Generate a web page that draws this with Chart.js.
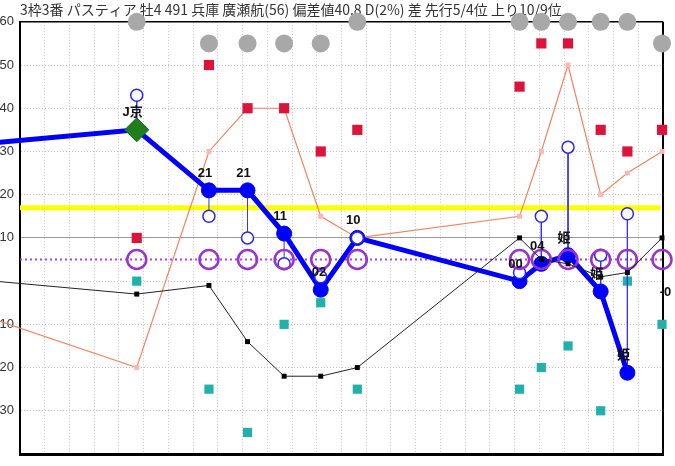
<!DOCTYPE html>
<html><head><meta charset="utf-8">
<script src="https://cdn.jsdelivr.net/npm/chart.js@4"></script>
<style>html,body{margin:0;padding:0;background:#fff;overflow:hidden}canvas{display:block}</style>
</head><body>
<canvas id="c" width="675" height="466"></canvas>
<script>
// ---- data ----
const titleText = '3枠3番 パスティア 牡4 491 兵庫 廣瀬航(56) 偏差値40.8 D(2%) 差 先行5/4位 上り10/9位';
const racePos   = [4.72, 7.64, 9.2, 10.68, 12.16, 13.64, 20.2, 21.08, 22.16, 23.48, 24.56, 25.96];
const prevPos   = -2;                       // previous race, off the left edge
const mainIndex = [35, 21, 21, 11, -2, 10, 0, 4, 6, -2.4, -21.2, null];
const mainLabels= ['J京','21','21','11','-02','10','00','04','姫','姫','姫',''];
const prevMain  = 31.5;
const upperIndex= [43, 15, 10, 4, 1, 10, 2, 15, 31, 6, 15.6, null];
const grayTop   = [60, 55, 55, 55, 55, 60, 60, 60, 60, 60, 60, 55];
const ringLevel = [5, 5, 5, 5, 5, 5, 5, 5, 5, 5, 5, 5];
const purpleLine= 5;
const yellowLine= 17;
const redSq     = [10, 50, 40, 40, 30, 35, 45, 55, 55, 35, 30, 35];
const tealSq    = [0, -25, -35, -10, -5, -25, -25, -20, -15, -30, 0, -10];
const orangeVal = [-20, 30, 40, 40, 15, 10, 15, 30, 50, 20, 25, 30];
const prevOrange= -7;
const blackVal  = [-3, -1, -14, -22, -22, -20, 10, 5, 4, 1, 2, 10];
const prevBlack = 0.5;
const edgeNote  = {x: 26.1, y: -2.6, text: '-0'};
const yTicks    = [60, 50, 40, 30, 20, 10, 0, -10, -20, -30];
const yTicksHidden = [0];

// ---- build ----
const pts = vals => racePos.map((x, i) => ({x, y: vals[i]}));
const stems = [];
racePos.forEach((x, i) => {
  if (mainIndex[i] == null) return;
  stems.push({x, y: upperIndex[i]}, {x, y: mainIndex[i]}, {x, y: null});
});
const mainData = [{x: prevPos, y: prevMain}, ...pts(mainIndex)];

const labelPlugin = {
  id: 'labels',
  afterDatasetsDraw(chart) {
    const ctx = chart.ctx;
    const meta = chart.getDatasetMeta(chart.data.datasets.findIndex(d => d.id === 'main'));
    ctx.save();
    ctx.font = 'bold 13px "Liberation Sans", "Noto Sans CJK JP", sans-serif';
    ctx.fillStyle = '#111';
    ctx.textAlign = 'center';
    ctx.textBaseline = 'middle';
    mainLabels.forEach((t, i) => {
      const p = meta.data[i + 1];
      if (!t || !p || mainIndex[i] == null) return;
      ctx.fillText(t, p.x - 4, p.y - 17);
    });
    const xs = chart.scales.x, ys = chart.scales.y;
    ctx.fillText(edgeNote.text, xs.getPixelForValue(edgeNote.x), ys.getPixelForValue(edgeNote.y));
    ctx.restore();
  }
};
const frame = {
  id: 'frame',
  beforeDatasetsDraw(chart) {
    const {ctx, chartArea: a} = chart;
    ctx.save();
    ctx.strokeStyle = '#000';
    ctx.lineWidth = 1.5;
    ctx.beginPath(); ctx.moveTo(a.left, a.top); ctx.lineTo(a.right, a.top); ctx.stroke();
    ctx.lineWidth = 2;
    ctx.beginPath(); ctx.moveTo(a.right, a.top); ctx.lineTo(a.right, a.bottom); ctx.stroke();
    ctx.restore();
  }
};

new Chart(document.getElementById('c'), {
  type: 'line',
  data: {
    datasets: [
      {id: 'gray', data: pts(grayTop), showLine: false, pointRadius: 9, pointBackgroundColor: '#a8a8a8', pointBorderWidth: 0, order: 0, clip: false},
      {id: 'black', data: [{x: prevPos, y: prevBlack}, ...pts(blackVal)], borderColor: '#222', borderWidth: 1, pointStyle: 'rect', pointRadius: 3.5, pointBackgroundColor: '#000', pointBorderColor: '#000', pointBorderWidth: 0, order: 1, clip: false},
      {id: 'rings', data: pts(ringLevel), showLine: false, pointRadius: 9.5, pointBorderWidth: 2.5, pointBorderColor: '#9a32d0', pointBackgroundColor: 'rgba(0,0,0,0)', order: 2, clip: false},
      {id: 'upper', data: pts(upperIndex), showLine: false, pointRadius: 6, pointBorderWidth: 1.5, pointBorderColor: '#2a2ae8', pointBackgroundColor: '#fff', order: 3, clip: false},
      {id: 'main', data: mainData, borderColor: '#0000ff', borderWidth: 5,
        pointStyle: mainData.map((d, i) => i === 1 ? 'rectRot' : 'circle'),
        pointRadius: mainData.map((d, i) => i === 1 ? 12 : 7.5),
        pointBackgroundColor: mainData.map((d, i) => i === 1 ? '#1f7f1f' : '#0000ff'),
        pointBorderColor: mainData.map((d, i) => i === 1 ? '#1a6a1a' : '#0000ff'),
        pointBorderWidth: 1, order: 4, clip: false},
      {id: 'stems', data: stems, borderColor: '#3535f0', borderWidth: 1, pointRadius: 0, spanGaps: false, order: 5, clip: false},
      {id: 'red', data: pts(redSq), showLine: false, pointStyle: 'rect', pointRadius: 7.2, pointBackgroundColor: '#dc143c', pointBorderWidth: 0, order: 6, clip: false},
      {id: 'teal', data: pts(tealSq), showLine: false, pointStyle: 'rect', pointRadius: 6.5, pointBackgroundColor: '#20b2aa', pointBorderWidth: 0, order: 6, clip: false},
      {id: 'orange', data: [{x: prevPos, y: prevOrange}, ...pts(orangeVal)], borderColor: '#f4845f', borderWidth: 1.2, pointStyle: 'rect', pointRadius: 3.5, pointBackgroundColor: '#ffb6b6', pointBorderColor: '#ffb6b6', pointBorderWidth: 0, order: 7, clip: false},
      {id: 'yellow', data: [{x: 0, y: yellowLine}, {x: 25.9, y: yellowLine}], borderColor: '#ffff00', borderWidth: 5, pointRadius: 0, order: 8},
      {id: 'purple', data: [{x: 0, y: purpleLine}, {x: 26, y: purpleLine}], borderColor: '#b040e8', borderWidth: 2, borderDash: [2, 3], pointRadius: 0, order: 8}
    ]
  },
  options: {
    responsive: false,
    animation: false,
    events: [],
    layout: {padding: {left: 0, right: 5, top: 0, bottom: 3}},
    plugins: {
      legend: {display: false},
      tooltip: {enabled: false},
      title: {display: true, text: titleText, align: 'start', fullSize: false,
        font: {family: '"Noto Sans CJK JP", sans-serif', size: 14, weight: 'normal', lineHeight: 1.2},
        color: '#333', padding: {top: 1, bottom: 4}}
    },
    scales: {
      x: {type: 'linear', min: 0, max: 26,
        ticks: {display: false, stepSize: 1},
        grid: {color: '#c4c4c4', lineWidth: 1, drawTicks: false},
        border: {display: true, color: '#000', width: 3, dash: [1, 2]},
        afterFit: s => { s.height = 0; }
      },
      y: {type: 'linear', min: -40, max: 60,
        afterBuildTicks: s => { s.ticks = yTicks.map(v => ({value: v})); },
        ticks: {padding: 6, font: {family: '"Liberation Sans", sans-serif', size: 13},
          color: c => c.tick && yTicksHidden.includes(c.tick.value) ? 'rgba(0,0,0,0)' : '#333'},
        grid: {color: c => c.tick && c.tick.value === 10 ? '#9a9a9a' : '#c4c4c4', lineWidth: 1, drawTicks: false},
        border: {display: true, color: '#000', width: 2, dash: c => c.tick && c.tick.value === 10 ? [] : [1, 2]},
        afterFit: s => { s.width = 20; s.paddingTop = 0; s.paddingBottom = 0; }
      }
    }
  },
  plugins: [frame, labelPlugin]
});
</script>
</body></html>
